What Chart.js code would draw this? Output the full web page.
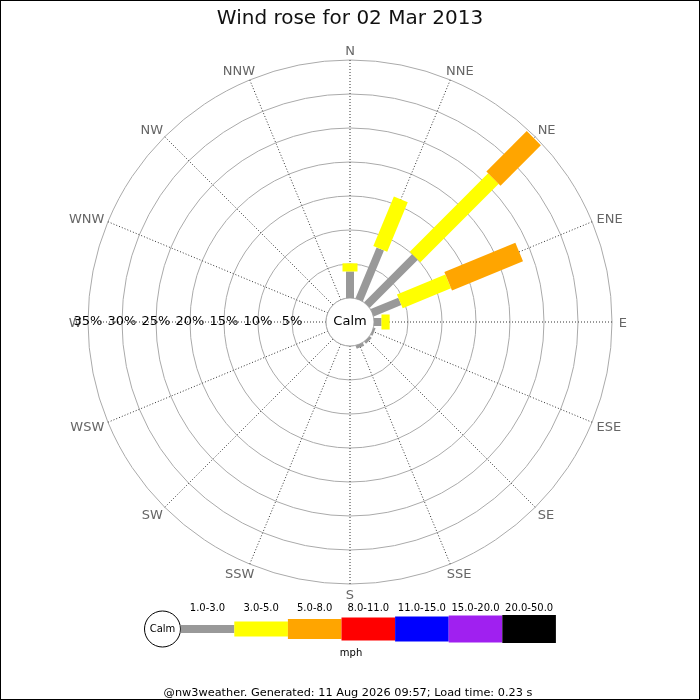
<!DOCTYPE html>
<html>
<head>
<meta charset="utf-8">
<title>Wind rose for 02 Mar 2013</title>
<script src="https://cdn.jsdelivr.net/npm/chart.js@4.4.1/dist/chart.umd.min.js"></script>
<style>
    html, body { margin: 0; padding: 0; background: #fff; }
    #wrap { width: 700px; height: 700px; position: relative; }
</style>
</head>
<body>
<div id="wrap"><canvas id="roseChart"></canvas></div>
<script>
const directions = ["N", "NNE", "NE", "ENE", "E", "ESE", "SE", "SSE",
    "S", "SSW", "SW", "WSW", "W", "WNW", "NW", "NNW"];

const speedBands = ["1.0-3.0", "3.0-5.0", "5.0-8.0", "8.0-11.0", "11.0-15.0", "15.0-20.0", "20.0-50.0"];
const speedUnit = "mph";

// % of time per direction, one array per speed band
const band1to3 = [3.9, 8.1, 10.0, 4.4, 1.1, 0.3, 0.4, 0.5, 0, 0, 0, 0, 0, 0, 0, 0];
const band3to5 = [1.2, 7.9, 16.3, 7.7, 1.2, 0, 0, 0, 0, 0, 0, 0, 0, 0, 0, 0];
const band5to8 = [0, 0, 8.4, 11.3, 0, 0, 0, 0, 0, 0, 0, 0, 0, 0, 0, 0];
const band8to11 = [0, 0, 0, 0, 0, 0, 0, 0, 0, 0, 0, 0, 0, 0, 0, 0];
const band11to15 = [0, 0, 0, 0, 0, 0, 0, 0, 0, 0, 0, 0, 0, 0, 0, 0];
const band15to20 = [0, 0, 0, 0, 0, 0, 0, 0, 0, 0, 0, 0, 0, 0, 0, 0];
const band20to50 = [0, 0, 0, 0, 0, 0, 0, 0, 0, 0, 0, 0, 0, 0, 0, 0];

const ringTicks = [0, 5, 10, 15, 20, 25, 30, 35];

const titleText = "Wind rose for 02 Mar 2013";
const footerText = "@nw3weather. Generated: 11 Aug 2026 09:57; Load time: 0.23 s";

const bandColors = ["#999999", "#ffff00", "#ffa500", "#ff0000", "#0000ff", "#a020f0", "#000000"];
const bandWidths = [8, 15, 20, 23, 25, 27, 28];
const calmOffset = 3.53; // radius of the calm circle, in % units

Chart.defaults.font.family = "'DejaVu Sans', sans-serif";
Chart.defaults.color = "#000";

const bandData = [band1to3, band3to5, band5to8, band8to11, band11to15, band15to20, band20to50];

const roseBars = {
    id: "roseBars",
    beforeDatasetsDraw(chart) {
        const ctx = chart.ctx;
        const scale = chart.scales.r;
        const rCalm = scale.getDistanceFromCenterForValue(0);
        ctx.save();
        // calm circle
        ctx.beginPath();
        ctx.arc(scale.xCenter, scale.yCenter, rCalm, 0, Math.PI * 2);
        ctx.fillStyle = "#fff";
        ctx.fill();
        ctx.strokeStyle = "#aaa";
        ctx.lineWidth = 1;
        ctx.stroke();
        ctx.fillStyle = "#000";
        ctx.font = "13px 'DejaVu Sans'";
        ctx.textAlign = "center";
        ctx.textBaseline = "middle";
        ctx.fillText("Calm", scale.xCenter, scale.yCenter);

        // compass labels
        ctx.fillStyle = "#666";
        ctx.textBaseline = "alphabetic";
        const capH = 9.5;
        const rLab = scale.drawingArea + 10;
        chart.data.labels.forEach((lab, i) => {
            const a = scale.getIndexAngle(i);
            const w = ctx.measureText(lab).width;
            const s = Math.sin(a);
            const shift = Math.sign(s) * Math.max(0, w / 2 - 3) * 0.85 * Math.sqrt(Math.abs(s));
            const x = scale.xCenter + rLab * s + shift;
            const y = scale.yCenter - rLab * Math.cos(a);
            ctx.fillText(lab, x, y + capH / 2);
        });

        // ring labels along the west axis
        ctx.fillStyle = "#000";
        ctx.textBaseline = "middle";
        ringTicks.forEach(v => {
            if (v === 0) return;
            const d = scale.getDistanceFromCenterForValue(v);
            ctx.fillText(v + "%", scale.xCenter - d, scale.yCenter);
        });
        ctx.restore();
    },
    afterDatasetsDraw(chart) {
        const ctx = chart.ctx;
        const scale = chart.scales.r;
        ctx.save();
        chart.data.labels.forEach((lab, i) => {
            let cum = 0;
            chart.data.datasets.forEach((ds) => {
                const v = ds.data[i];
                if (!v) return;
                const r0 = scale.getDistanceFromCenterForValue(cum);
                const r1 = scale.getDistanceFromCenterForValue(cum + v);
                cum += v;
                ctx.save();
                ctx.translate(scale.xCenter, scale.yCenter);
                ctx.rotate(scale.getIndexAngle(i));
                ctx.fillStyle = ds.barColor;
                ctx.fillRect(-ds.barWidth / 2, -r1, ds.barWidth, r1 - r0);
                ctx.restore();
            });
        });
        ctx.restore();
    },
    afterDraw(chart) {
        const ctx = chart.ctx;
        ctx.save();
        // legend
        const lx = 180.7, ly = 629, seg = 53.6;
        ctx.beginPath();
        ctx.arc(162.5, ly, 18, 0, Math.PI * 2);
        ctx.fillStyle = "#fff";
        ctx.fill();
        ctx.strokeStyle = "#000";
        ctx.lineWidth = 1;
        ctx.stroke();
        ctx.fillStyle = "#000";
        ctx.font = "10px 'DejaVu Sans'";
        ctx.textAlign = "center";
        ctx.textBaseline = "middle";
        ctx.fillText("Calm", 162.5, ly);
        ctx.textBaseline = "alphabetic";
        chart.data.datasets.forEach((ds, k) => {
            const x = lx + k * seg;
            ctx.fillStyle = ds.barColor;
            ctx.fillRect(x, ly - ds.barWidth / 2, seg, ds.barWidth);
            ctx.fillStyle = "#000";
            ctx.fillText(ds.label, x + seg / 2, 611);
        });
        ctx.fillText(speedUnit, 351, 656);
        ctx.font = "11.3px 'DejaVu Sans'";
        ctx.fillText(footerText, 348, 696);
        // frame
        ctx.strokeStyle = "#000";
        ctx.strokeRect(0.5, 0.5, chart.width - 1, chart.height - 1);
        ctx.restore();
    }
};

new Chart(document.getElementById("roseChart"), {
    type: "radar",
    data: {
        labels: directions,
        datasets: bandData.map((d, k) => ({
            label: speedBands[k],
            data: d,
            barColor: bandColors[k],
            barWidth: bandWidths[k],
            borderWidth: 0,
            pointRadius: 0,
            showLine: false,
            fill: false
        }))
    },
    options: {
        responsive: true,
        maintainAspectRatio: false,
        animation: false,
        layout: {
            padding: { left: 88, right: 88, top: 0, bottom: 116 }
        },
        plugins: {
            legend: { display: false },
            tooltip: { enabled: false },
            title: {
                display: true,
                text: titleText,
                color: "#111",
                font: { size: 20, weight: "normal" },
                padding: { top: 7, bottom: 29 }
            }
        },
        scales: {
            r: {
                min: -calmOffset,
                max: 35,
                afterBuildTicks: (scale) => {
                    scale.ticks = ringTicks.map(v => ({ value: v }));
                },
                ticks: { display: false },
                pointLabels: { display: false },
                grid: { circular: true, color: "#aaa", lineWidth: 1 },
                angleLines: { color: "#333", lineWidth: 1, borderDash: [1, 2] }
            }
        }
    },
    plugins: [roseBars]
});
</script>
</body>
</html>
